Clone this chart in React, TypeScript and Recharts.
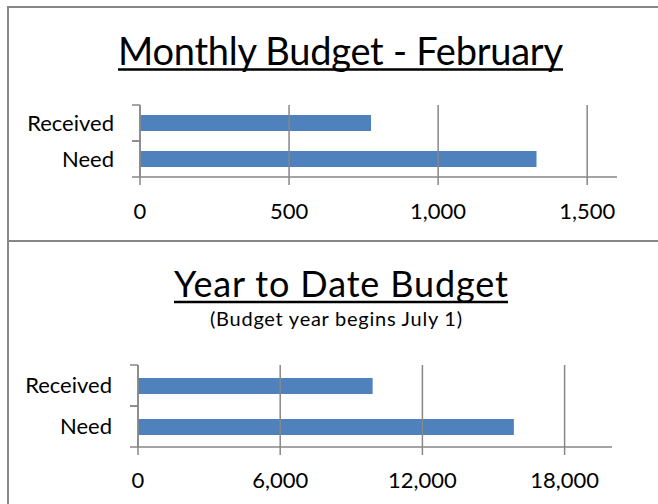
import React from 'react';
import { BarChart, Bar, XAxis, YAxis, ReferenceLine } from 'recharts';

// ---- data ----
const categories = ['Received', 'Need'];
const monthlyValues = [775, 1330];
const ytdValues = [9900, 15860];
const monthlyTicks = [0, 500, 1000, 1500];
const ytdTicks = [0, 6000, 12000, 18000];
const monthlyMax = 1600;
const ytdMax = 20000;
const monthlyTitle = 'Monthly Budget - February';
const ytdTitle = 'Year to Date Budget';
const ytdSubtitle = '(Budget year begins July 1)';

const monthlyData = categories.map((name, i) => ({ name, value: monthlyValues[i] }));
const ytdData = categories.map((name, i) => ({ name, value: ytdValues[i] }));

// ---- style ----
const FONT = 'Lato, "Gill Sans", "Noto Sans", sans-serif';
const GRID = '#878787';
const BAR = '#4f81bd';

const fmt = (v: number) => v.toLocaleString('en-US');

function CatTick(props: any) {
  const { x, y, payload } = props;
  const off = payload && payload.offset ? payload.offset : 18;
  return (
    <g>
      <line x1={x - 8} x2={x} y1={y - off} y2={y - off} stroke={GRID} strokeWidth={1.5} />
      <line x1={x - 8} x2={x} y1={y + off} y2={y + off} stroke={GRID} strokeWidth={1.5} />
      <text x={x - 26} y={y} dy="0.36em" textAnchor="end" fontFamily={FONT} fontSize={22} fill="#000">
        {payload.value}
      </text>
    </g>
  );
}

function Panel(props: {
  data: any[];
  ticks: number[];
  max: number;
  height: number;
  margin: any;
  yWidth: number;
  tickMargin: number;
}) {
  const { data, ticks, max, height, margin, yWidth, tickMargin } = props;
  return (
    <BarChart width={658} height={height} data={data} layout="vertical" margin={margin}>
      <XAxis
        type="number"
        domain={[0, max]}
        ticks={ticks}
        tickFormatter={fmt}
        axisLine={{ stroke: GRID, strokeWidth: 1.5 }}
        tickLine={{ stroke: GRID, strokeWidth: 1.5 }}
        tickSize={8}
        tickMargin={tickMargin}
        height={40}
        tick={{ fontFamily: FONT, fontSize: 22, fill: '#000' }}
        interval={0}
      />
      <YAxis
        type="category"
        dataKey="name"
        width={yWidth}
        axisLine={{ stroke: GRID, strokeWidth: 1.5 }}
        tickLine={false}
        tickSize={0}
        tickMargin={0}
        tick={<CatTick />}
        interval={0}
      />
      {ticks.map((t) => (
        <ReferenceLine key={t} x={t} stroke={GRID} strokeWidth={1.5} ifOverflow="visible" />
      ))}
      <Bar dataKey="value" fill={BAR} barSize={16} isAnimationActive={false} />
    </BarChart>
  );
}

export default function App() {
  return (
    <div
      style={{
        position: 'absolute',
        left: 0,
        top: 0,
        width: 658,
        height: 504,
        overflow: 'hidden',
        background: '#fff',
      }}
    >
      <div
        style={{
          position: 'absolute',
          left: 7,
          top: 6,
          width: 720,
          height: 236,
          boxSizing: 'border-box',
          border: `2px solid ${GRID}`,
        }}
      />
      <div
        style={{
          position: 'absolute',
          left: 7,
          top: 240,
          width: 720,
          height: 300,
          boxSizing: 'border-box',
          border: `2px solid ${GRID}`,
        }}
      />
      <div style={{ position: 'absolute', left: 0, top: 0 }}>
        <Panel
          data={monthlyData}
          ticks={monthlyTicks}
          max={monthlyMax}
          height={240}
          margin={{ top: 105, right: 41, left: 0, bottom: 23 }}
          yWidth={140}
          tickMargin={18}
        />
      </div>
      <div style={{ position: 'absolute', left: 0, top: 240 }}>
        <Panel
          data={ytdData}
          ticks={ytdTicks}
          max={ytdMax}
          height={264}
          margin={{ top: 125, right: 46, left: 0, bottom: 17 }}
          yWidth={138}
          tickMargin={17}
        />
      </div>
      <svg
        width={658}
        height={504}
        style={{ position: 'absolute', left: 0, top: 0, pointerEvents: 'none' }}
      >
        <text x={340.5} y={65} textAnchor="middle" fontFamily={FONT} fontSize={38} fill="#000" textLength={445}>
          {monthlyTitle}
        </text>
        <line x1={118} x2={563} y1={69.5} y2={69.5} stroke="#000" strokeWidth={2.5} />
        <text x={341} y={297} textAnchor="middle" fontFamily={FONT} fontSize={36} fill="#000" textLength={334}>
          {ytdTitle}
        </text>
        <line x1={174} x2={508} y1={302} y2={302} stroke="#000" strokeWidth={2.5} />
        <text x={336} y={326} textAnchor="middle" fontFamily={FONT} fontSize={20} fill="#000" textLength={252}>
          {ytdSubtitle}
        </text>
      </svg>
    </div>
  );
}
